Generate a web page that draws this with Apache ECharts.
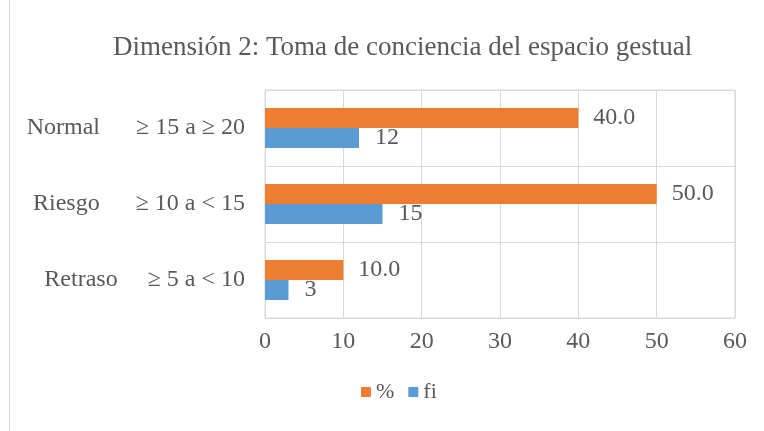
<!DOCTYPE html>
<html>
<head>
<meta charset="utf-8">
<script src="https://cdn.jsdelivr.net/npm/echarts@6/dist/echarts.min.js"></script>
<style>
  html, body { margin: 0; padding: 0; background: #fff; }
  #myChart { width: 764px; height: 431px; }
</style>
</head>
<body>
<div id="myChart"></div>
<script>
  // datos
  var categorias = ['Retraso     ≥ 5 a < 10', 'Riesgo      ≥ 10 a < 15', 'Normal      ≥ 15 a ≥ 20'];
  var porcentaje = [10.0, 50.0, 40.0];
  var fi = [3, 15, 12];
  var ticksX = [0, 10, 20, 30, 40, 50, 60];

  var fuente = '"Liberation Serif", "Times New Roman", serif';
  var gris = '#595959';

  var myChart = echarts.init(document.getElementById('myChart'));
  var option = {
    animation: false,
    title: {
      text: 'Dimensión 2: Toma de conciencia del espacio gestual',
      left: 108,
      top: 29,
      textStyle: { fontFamily: fuente, fontSize: 27, fontWeight: 'normal', color: gris }
    },
    legend: {
      data: ['%', 'fi'],
      bottom: 23,
      left: 356,
      itemWidth: 10,
      itemHeight: 10,
      itemGap: 14,
      icon: 'rect',
      textStyle: { fontFamily: fuente, fontSize: 22, color: gris }
    },
    grid: {
      left: 265,
      right: 29,
      top: 90,
      bottom: 113,
      show: true,
      borderColor: '#d9d9d9',
      borderWidth: 1
    },
    xAxis: {
      type: 'value',
      min: 0,
      max: ticksX[ticksX.length - 1],
      interval: 10,
      axisLine: { show: false },
      axisTick: { show: false },
      splitLine: { show: true, lineStyle: { color: '#d9d9d9', width: 1 } },
      axisLabel: { fontFamily: fuente, fontSize: 24, color: gris, margin: 12 }
    },
    yAxis: {
      type: 'category',
      data: categorias,
      axisLine: { show: false },
      axisTick: { show: false },
      splitLine: { show: true, lineStyle: { color: '#d9d9d9', width: 1 } },
      axisLabel: { fontFamily: fuente, fontSize: 24, color: gris, margin: 20 }
    },
    series: [
      {
        name: '%',
        type: 'bar',
        data: porcentaje,
        barWidth: 20,
        barGap: '0%',
        itemStyle: { color: '#ED7D31' },
        label: {
          show: true,
          position: 'right',
          distance: 15,
          fontFamily: fuente,
          fontSize: 24,
          color: gris,
          formatter: function (p) { return p.value.toFixed(1); }
        }
      },
      {
        name: 'fi',
        type: 'bar',
        data: fi,
        barWidth: 20,
        barGap: '0%',
        itemStyle: { color: '#5B9BD5' },
        label: {
          show: true,
          position: 'right',
          distance: 16,
          fontFamily: fuente,
          fontSize: 24,
          color: gris
        }
      }
    ],
    graphic: [
      {
        type: 'line',
        shape: { x1: 9.5, y1: 0, x2: 9.5, y2: 431 },
        style: { stroke: '#d9d9d9', lineWidth: 1 }
      }
    ]
  };
  myChart.setOption(option);
</script>
</body>
</html>
